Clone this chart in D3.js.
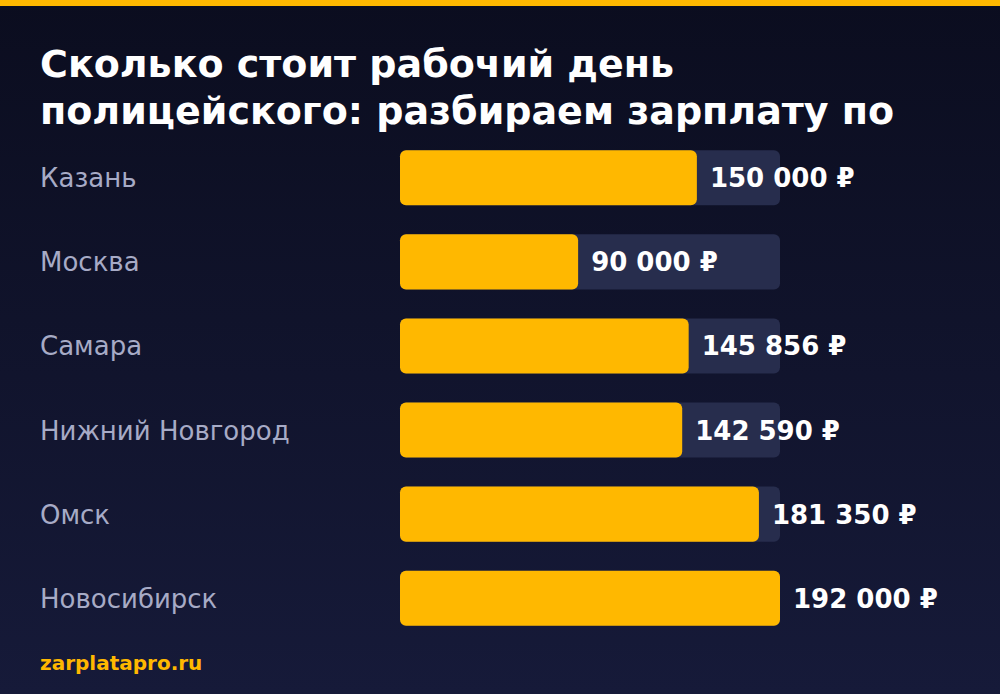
<!DOCTYPE html>
<html>
<head>
<meta charset="utf-8">
<script src="https://cdn.jsdelivr.net/npm/d3@7"></script>
<style>
  html, body { margin: 0; padding: 0; background: #0c0e21; }
  svg { display: block; }
</style>
</head>
<body>
<div id="chart"></div>
<script>
// data
var cities = ["Казань", "Москва", "Самара", "Нижний Новгород", "Омск", "Новосибирск"];
var salaries = [150000, 90000, 145856, 142590, 181350, 192000];
var titleLines = ["Сколько стоит рабочий день", "полицейского: разбираем зарплату по"];
var source = "zarplatapro.ru";

var width = 1000, height = 694;
var margin = {left: 40, barLeft: 400, barRight: 780, top: 136};

var svg = d3.select("#chart").append("svg")
    .attr("width", width)
    .attr("height", height);

var defs = svg.append("defs");
var grad = defs.append("linearGradient")
    .attr("id", "bg")
    .attr("x1", 0).attr("y1", 0).attr("x2", 0).attr("y2", 1);
grad.append("stop").attr("offset", "0%").attr("stop-color", "#0b0d1f");
grad.append("stop").attr("offset", "100%").attr("stop-color", "#161a39");

svg.append("rect")
    .attr("width", width)
    .attr("height", height)
    .attr("fill", "url(#bg)");

// top accent line
svg.append("rect")
    .attr("width", width)
    .attr("height", 6)
    .attr("fill", "#ffb800");

// title
svg.append("g").selectAll("text")
    .data(titleLines)
    .enter()
    .append("text")
    .attr("x", margin.left)
    .attr("y", function (d, i) { return 77 + i * 47; })
    .attr("fill", "#ffffff")
    .style("font-family", "DejaVu Sans, sans-serif")
    .style("font-weight", "bold")
    .style("font-size", "38px")
    .text(function (d) { return d; });

var xScale = d3.scaleLinear()
    .domain([0, d3.max(salaries)])
    .range([0, margin.barRight - margin.barLeft]);

var yScale = d3.scaleBand()
    .domain(cities)
    .range([margin.top, margin.top + cities.length * 84])
    .paddingInner(0.345)
    .paddingOuter(0.17);

var rows = svg.append("g").selectAll("g")
    .data(cities)
    .enter()
    .append("g")
    .attr("transform", function (d) { return "translate(0," + yScale(d) + ")"; });

var bh = yScale.bandwidth();

rows.append("text")
    .attr("x", margin.left)
    .attr("y", bh / 2 + 9.5)
    .attr("fill", "#a7abc6")
    .style("font-family", "DejaVu Sans, sans-serif")
    .style("font-size", "26px")
    .text(function (d) { return d; });

// background track
rows.append("rect")
    .attr("x", margin.barLeft)
    .attr("width", xScale.range()[1])
    .attr("height", bh)
    .attr("rx", 6)
    .attr("fill", "#272d4d");

// value bar
rows.append("rect")
    .attr("x", margin.barLeft)
    .attr("width", function (d, i) { return xScale(salaries[i]); })
    .attr("height", bh)
    .attr("rx", 6)
    .attr("fill", "#ffb800");

var fmt = d3.format(",d");
rows.append("text")
    .attr("x", function (d, i) { return margin.barLeft + xScale(salaries[i]) + 13; })
    .attr("y", bh / 2 + 9.5)
    .attr("fill", "#ffffff")
    .style("font-family", "DejaVu Sans, sans-serif")
    .style("font-weight", "bold")
    .style("font-size", "26px")
    .text(function (d, i) { return fmt(salaries[i]).replace(/,/g, " ") + " ₽"; });

// source
svg.append("text")
    .attr("x", margin.left)
    .attr("y", 670)
    .attr("fill", "#ffb800")
    .style("font-family", "DejaVu Sans, sans-serif")
    .style("font-weight", "bold")
    .style("font-size", "20px")
    .text(source);
</script>
</body>
</html>
